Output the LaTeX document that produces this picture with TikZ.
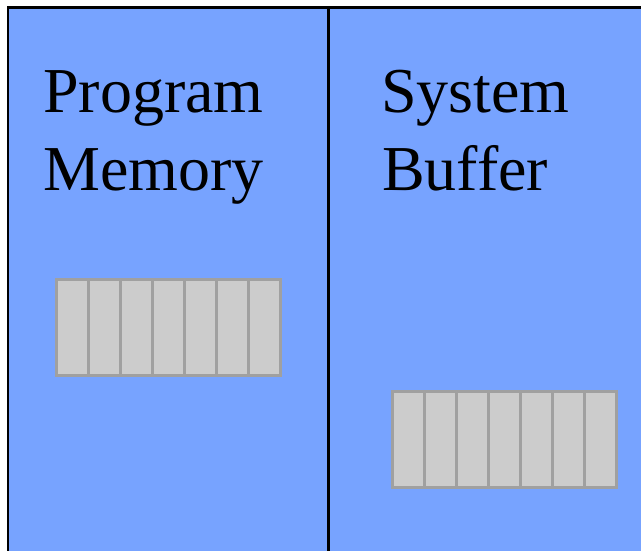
\documentclass[tikz,border=0pt]{standalone}
\usepackage{fontspec}
\setmainfont{Liberation Serif}
\definecolor{panelblue}{RGB}{119,163,255}
\definecolor{cellgray}{RGB}{204,204,204}
\definecolor{cellline}{RGB}{160,160,160}
\tikzset{
  panelbox/.style={fill=panelblue,draw=black,line width=2.6pt},
  paneltext/.style={anchor=base west,inner sep=0pt,font=\fontsize{64}{78}\selectfont},
  bufcells/.style={fill=cellgray,draw=cellline,line width=2.7pt}
}
\begin{document}
\begin{tikzpicture}[x=1pt,y=-1pt]
\useasboundingbox (0,0) rectangle (641,550);
\begin{scope}
\clip (0,0) rectangle (641,550);
\draw[panelbox] (8,7.5) rectangle (328.5,570);
\draw[panelbox] (328.5,7.5) rectangle (660,570);
\end{scope}
\node[paneltext] (pm1) at (43,112) {Program};
\node[paneltext] (pm2) at (43,190) {Memory};
\node[paneltext] (sb1) at (381,112) {System};
\node[paneltext] (sb2) at (382,190) {Buffer};
% left buffer
\draw[bufcells] (56.3,279.5) rectangle (280.3,375.5);
\foreach \i in {1,...,6}{\draw[bufcells] (56.3+32*\i,279.5) -- (56.3+32*\i,375.5);}
% right buffer
\draw[bufcells] (392.5,391.5) rectangle (616.5,487.5);
\foreach \i in {1,...,6}{\draw[bufcells] (392.5+32*\i,391.5) -- (392.5+32*\i,487.5);}
\end{tikzpicture}
\end{document}
